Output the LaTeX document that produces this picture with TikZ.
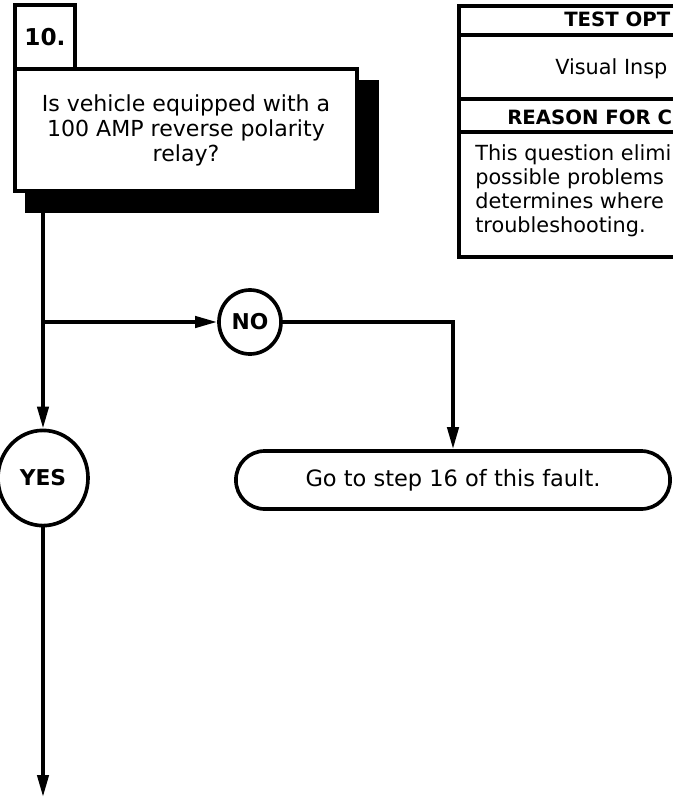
\documentclass[tikz,border=0pt]{standalone}
\usepackage{fontspec}
\setmainfont{DejaVu Sans}
\usetikzlibrary{shapes.geometric,arrows.meta,positioning}

\tikzset{
  flow/.style={line width=2.6pt},
  arr/.style={flow, -{Triangle[length=0.55cm,width=0.28cm]}},
  qbox/.style={draw, line width=2.6pt, fill=white},
  answer/.style={ellipse, draw, line width=2.6pt, fill=white, inner sep=0pt,
    font=\bfseries\fontsize{15.5}{18}\selectfont},
  gobox/.style={draw, line width=2.6pt, rounded corners=0.72cm,
    minimum width=10.85cm, minimum height=1.45cm,
    font=\fontsize{16}{18}\selectfont},
  tbl/.style={line width=2.6pt},
  hdr/.style={anchor=base west, inner sep=0pt, font=\bfseries\fontsize{14}{17}\selectfont},
  txt/.style={anchor=base west, inner sep=0pt, font=\fontsize{14.8}{18}\selectfont}
}

\begin{document}
\begin{tikzpicture}[x=0.025cm, y=-0.025cm]
    \useasboundingbox (0,0) rectangle (673,797);
    % Question box with its shadow
    \fill (25,80) rectangle (379,213);
    \node[qbox, minimum width=8.55cm, minimum height=3.05cm, align=center,
          font=\fontsize{15.7}{17.8}\selectfont] (quest) at (186,130)
      {Is vehicle equipped with a\\100 AMP reverse polarity\\relay?};
    \node[qbox, minimum width=1.5cm, minimum height=1.6cm,
          font=\bfseries\fontsize{16.5}{19}\selectfont] (num) at (45,37) {10.};
    \coordinate (drop) at (43,213);
    % Answers
    \node[answer, minimum width=2.25cm, minimum height=2.38cm] (yes) at (43,478) {YES};
    \node[answer, minimum width=1.55cm, minimum height=1.6cm] (no) at (250,322) {NO};
    \node[gobox] (go) at (453,480) {Go to step 16 of this fault.};
    \coordinate (out) at (43,797);
    % Flow lines
    \draw[arr] (drop) -- (yes.north);
    \draw[arr] (yes.north |- no.west) -- (no.west);
    \draw[arr] (no.east) -| (go.north);
    \draw[arr] (yes.south) -- (out);
    % Test options table (runs off the right edge)
    \draw[tbl] (673,6) -| (459,257) -- (673,257);
    \foreach \y in {35,99,132}
      \draw[tbl] (459,\y) -- (673,\y);
    \node[hdr] (tsthd) at (564,26) {TEST OPT};
    \node[txt] (tstval) at (555,74) {Visual Insp};
    \node[hdr] (rsnhd) at (507,124) {REASON FOR C};
    \foreach \y/\txt [count=\i] in {160/This question elimi,
      184/possible problems, 208/determines where, 232/troubleshooting.}
      \node[txt] (rsn\i) at (475,\y) {\txt};
\end{tikzpicture}
\end{document}
